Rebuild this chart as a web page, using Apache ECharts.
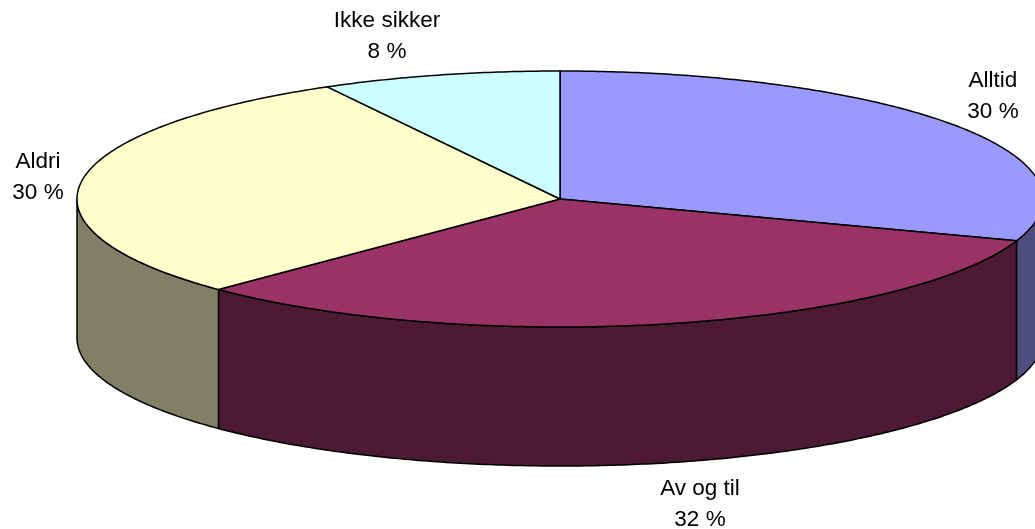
<!DOCTYPE html>
<html>
<head>
	<meta charset="utf-8" />
	<title>Kakediagram</title>
	<script src="https://cdn.jsdelivr.net/npm/echarts@6/dist/echarts.min.js"></script>
	<style>
		html,body{margin:0;padding:0;background:#fff;}
	</style>
</head>
<body>
	<div id="main" style="width: 1035px;height: 529px;"></div>
	<script type="text/javascript">

		// unrounded shares estimated from the slice edges; the labels show them rounded
		var categories = ['Alltid','Av og til','Aldri','Ikke sikker'];
		var values = [30.3,32.2,29.5,8.0];
		var topColors = ['#9999FF','#993366','#FFFFCC','#CCFFFF'];
		var wallColors = ['#4D4D80','#4D1A33','#808066','#668080'];

		// pie shape on screen
		var cx = 560, cy = 199, rx = 483, ry = 128, depth = 139;
		// label centres
		var labelX = [993,700,38,387];
		var labelY = [96,504,177.5,36.5];

		var total = values.reduce(function(a,b){return a+b;},0);
		var starts = [];
		var sum = 0;
		for(var i=0;i<values.length;i++) {
			starts.push(sum/total*Math.PI*2);
			sum += values[i];
		}

		// angle is clockwise from 12 o'clock
		function rim(a,drop) {
			return [cx+rx*Math.sin(a), cy-ry*Math.cos(a)+(drop||0)];
		}

		function arc(a0,a1,drop) {
			var pts = [];
			var n = Math.max(2,Math.ceil((a1-a0)/0.01));
			for(var i=0;i<=n;i++) {
				pts.push(rim(a0+(a1-a0)*i/n,drop));
			}
			return pts;
		}

		var lineStyle = {stroke:'#000',lineWidth:1.5,lineJoin:'round'};

		function renderItem(params,api) {
			var i = params.dataIndex;
			var a0 = starts[i];
			var a1 = a0+api.value(0)/total*Math.PI*2;
			var children = [];

			// the wall is only visible on the front half of the rim
			var w0 = Math.max(a0,Math.PI/2);
			var w1 = Math.min(a1,Math.PI*1.5);
			if(w1>w0) {
				var wall = arc(w0,w1,0).concat(arc(w0,w1,depth).reverse());
				children.push({
					type:'polygon',
					z2:1,
					shape:{points:wall},
					style:Object.assign({fill:wallColors[i]},lineStyle)
				});
			}

			var top = [[cx,cy]].concat(arc(a0,a1,0));
			children.push({
				type:'polygon',
				z2:2,
				shape:{points:top},
				style:Object.assign({fill:topColors[i]},lineStyle)
			});

			children.push({
				type:'text',
				z2:3,
				x:labelX[i],
				y:labelY[i],
				style:{
					text:categories[i]+'\n'+Math.round(api.value(0))+' %',
					fill:'#000',
					font:'22.5px "Liberation Sans", Arial, sans-serif',
					lineHeight:31,
					align:'center',
					verticalAlign:'middle'
				}
			});

			return {type:'group',children:children};
		}

		var myChart = echarts.init(document.getElementById("main"));

		var option = {
			animation:false,
			backgroundColor:'#fff',
			series:[
				{
					type:'custom',
					coordinateSystem:'none',
					renderItem:renderItem,
					clip:false,
					data:values.map(function(v,i){
						return {name:categories[i],value:[v]};
					})
				}
			]
		};

		myChart.setOption(option);

	</script>
</body>
</html>
